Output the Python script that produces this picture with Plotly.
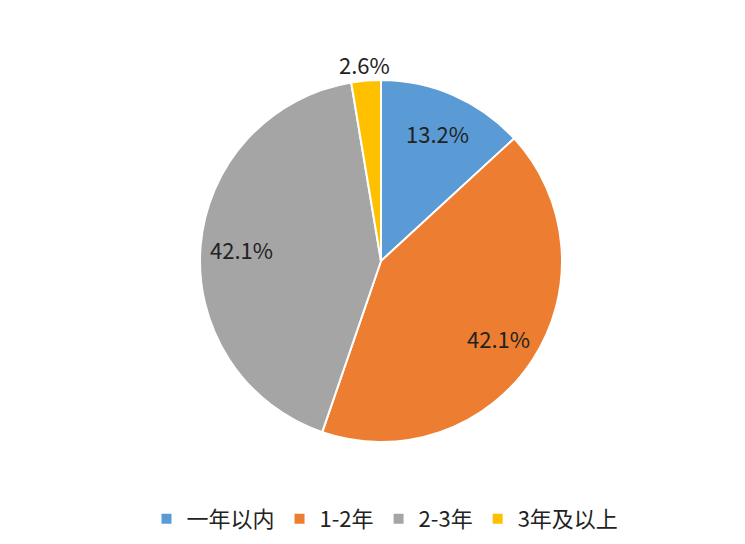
import math
import plotly.graph_objects as go

# 数据
categories = ["一年以内", "1-2年", "2-3年", "3年及以上"]
values = [5, 16, 16, 1]
colors = ["#5B9BD5", "#ED7D31", "#A5A5A5", "#FFC000"]

W, H = 745, 544
# 页面 body 有 8px 边距，这里扣掉
cx, cy, r = 373, 253, 181

fig = go.Figure()
fig.add_trace(go.Pie(
    labels=categories,
    values=values,
    sort=False,
    direction="clockwise",
    rotation=0,
    marker=dict(colors=colors, line=dict(color="white", width=2)),
    textinfo="none",
    domain=dict(x=[(cx - r) / W, (cx + r) / W], y=[1 - (cy + r) / H, 1 - (cy - r) / H]),
    hoverinfo="label+percent",
))

# 标签位置按扇区中间角度计算（类似 Excel 的最佳位置）
total = sum(values)
acc = 0
for v in values:
    mid = (acc + v / 2) / total * 2 * math.pi
    acc += v
    frac = 0.775 if v / total > 0.05 else 1.09
    d = frac * r
    fig.add_annotation(
        text=f"{v / total * 100:.1f}%",
        xref="paper", yref="paper",
        x=(cx + d * math.sin(mid)) / W,
        y=1 - (cy - d * math.cos(mid)) / H,
        showarrow=False,
        font=dict(size=22, color="#222222"),
        xanchor="center", yanchor="middle",
    )

fig.update_layout(
    width=W, height=H,
    margin=dict(l=0, r=0, t=0, b=0),
    paper_bgcolor="white",
    font=dict(family="Noto Sans CJK SC, Noto Sans, sans-serif", color="#222222"),
    showlegend=True,
    legend=dict(
        orientation="h",
        x=(385 - 8) / W, xanchor="center",
        y=1 - (519 - 8) / H, yanchor="middle",
        font=dict(size=22, color="#222222"),
        itemwidth=30,
    ),
)

fig.write_html("out.html")
